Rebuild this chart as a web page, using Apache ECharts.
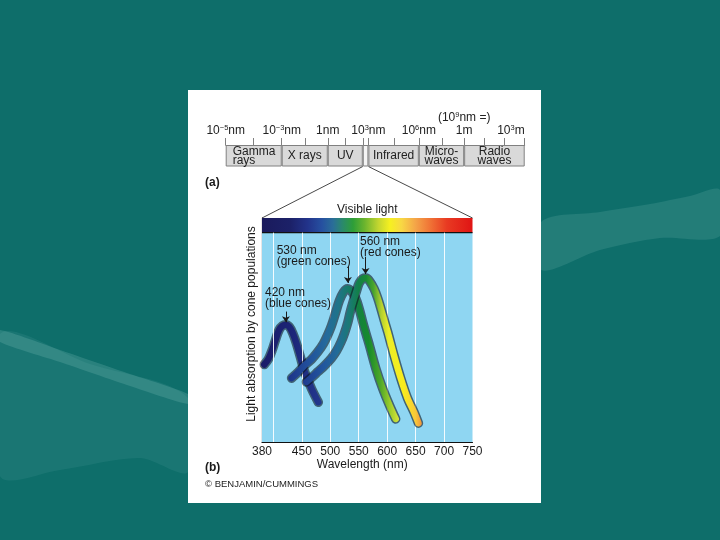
<!DOCTYPE html>
<html><head><meta charset="utf-8">
<script src="https://cdn.jsdelivr.net/npm/echarts@6/dist/echarts.min.js"></script>
<style>html,body{margin:0;padding:0;background:#0e6e6a;} #c{width:720px;height:540px;}</style>
</head><body><div id="c"></div>
<script>
// ---------- data ----------
const wavelengthLabels = [380, 450, 500, 550, 600, 650, 700, 750];
const gridLineWavelengths = [400, 450, 500, 550, 600, 650, 700];
const visibleRange = [380, 750];
const spectrumTop = 107;   // visible-light colour strip sits above absorption 100
const blueCone = [[384,37],[391,39.5],[398,44],[404,49],[410,53.5],[416,55.5],[422,56],[428,55],[434,52],[440,47.5],[447,41],[455,33.5],[467,25.5],[479,19]];
const greenCone = [[432,30.5],[444,33.5],[455,36.7],[467,39.5],[478,43],[488,47],[496,51.5],[502,55.5],[508,60.5],[516,67.5],[523,71.5],[530,73.2],[537,72],[545,68.4],[551,63.5],[557,57.3],[563,51.5],[569,46],[580,35.2],[592,25.6],[604,17.6],[615,11]];
const redCone = [[458,28.7],[468,31],[478,33.5],[490,36.5],[502,40],[511,43.5],[519,47.8],[525,52],[531,57.3],[535,62],[540,66.8],[546,72],[551,76],[557,78],[563,78.3],[570,76.5],[577,73.2],[583,69],[589,63.7],[595,58],[601,52.5],[612,41.4],[624,30.3],[636,20.8],[647,14.4],[655,9]];
const peakLabels = ['420 nm\n(blue cones)', '530 nm\n(green cones)', '560 nm\n(red cones)'];
const peakWavelengths = [422, 531, 562];

const bandNames = ['Gamma\nrays', 'X rays', 'UV', '', 'Infrared', 'Micro-\nwaves', 'Radio\nwaves'];
const bandWidths = [56, 46, 35, 5.6, 50.4, 45.3, 60.5];
const scaleLabels = ['10{s|−5}nm', '10{s|−3}nm', '1nm', '10{s|3}nm', '10{s|6}nm', '(10{s|9}nm =)\n1m', '10{s|3}m'];
const scaleLabelBoundary = [0, 1, 2, 4, 5, 6, 7];
const minorTickPositions = [28, 79, 119, 168, 216, 258, 278];

// colour stops along wavelength
const spectrumStops = [[380,'#1a1a5c'],[430,'#1c2168'],[460,'#22338a'],[485,'#2650a0'],[505,'#2a6e98'],[522,'#2a8a6a'],[540,'#2e9e38'],[560,'#6ab42e'],[585,'#c4d630'],[605,'#f6f020'],[625,'#f8d844'],[650,'#f4a448'],[675,'#f07436'],[705,'#e83a22'],[750,'#e01414']];
const blueStops = [[384,'#1a1c68'],[430,'#1c2476'],[479,'#23388e']];
const greenStops = [[432,'#1d3388'],[465,'#22509c'],[495,'#246a9c'],[515,'#1f7488'],[530,'#18796a'],[545,'#137f44'],[565,'#168a2c'],[585,'#50a82a'],[600,'#9ccc2c'],[615,'#d8e43c']];
const redStops = [[458,'#1f3a8e'],[490,'#22559e'],[515,'#236c98'],[535,'#1a7a74'],[550,'#128048'],[563,'#1a8a34'],[575,'#4aa42e'],[588,'#b4d030'],[600,'#ecee28'],[625,'#f8ec1c'],[645,'#f8c83a'],[655,'#f0943c']];

// ---------- layout ----------
const MAIN = {left: 262, top: 218, width: 210.5, height: 224};
const BOX = {left: 225.7, top: 145, width: 299, height: 21.5};
const FONT = 'Liberation Sans, Arial, Helvetica, sans-serif';
const TXT = '#1a1a1a';

function grad(stops, lo, hi) {
  return {type: 'linear', x: 0, y: 0, x2: 1, y2: 0,
    colorStops: stops.map(s => ({offset: Math.min(1, Math.max(0, (s[0] - lo) / (hi - lo))), color: s[1]}))};
}
const boundaries = [0];
bandWidths.forEach(w => boundaries.push(boundaries[boundaries.length - 1] + w));
const labelValues = scaleLabelBoundary.map(i => boundaries[i]);
const tickValues = boundaries.concat(minorTickPositions).sort((a, b) => a - b);

function coneSeries(data, stops, idx, labelCoord, arrowFrom, arrowTo) {
  const lo = data[0][0], hi = data[data.length - 1][0];
  return [{
    type: 'line', data: data, smooth: 0.35, showSymbol: false, silent: true, z: 3 + idx * 2,
    lineStyle: {color: 'rgba(12,22,34,0.6)', width: 9.5, cap: 'round'}
  }, {
    type: 'line', data: data, smooth: 0.35, showSymbol: false, silent: true, z: 4 + idx * 2,
    lineStyle: {color: grad(stops, lo, hi), width: 6.5, cap: 'round'},
    markPoint: {
      symbol: 'circle', symbolSize: 0, silent: true,
      data: [{coord: labelCoord}],
      label: {show: true, position: [0, 0], align: 'left', verticalAlign: 'top',
        formatter: peakLabels[idx], fontSize: 12, lineHeight: 11, color: TXT, fontFamily: FONT}
    },
    markLine: {
      silent: true, symbol: ['none', 'arrow'], symbolSize: 6, animation: false,
      label: {show: false},
      lineStyle: {color: TXT, width: 1, type: 'solid'},
      data: [[{coord: [peakWavelengths[idx], arrowFrom]}, {coord: [peakWavelengths[idx], arrowTo]}]]
    }
  }];
}

const bandSeries = bandNames.map((name, i) => ({
  type: 'bar', xAxisIndex: 1, yAxisIndex: 1, stack: 'em', barWidth: '100%', silent: true,
  data: [bandWidths[i]],
  itemStyle: {color: name ? '#d9d9d9' : '#f4f4f4', borderColor: '#808080', borderWidth: 1},
  label: {show: !!name, position: i === 0 ? 'insideLeft' : 'inside', distance: 7,
    formatter: name, fontSize: 12, lineHeight: 9, color: '#222', fontFamily: FONT}
}));

const chart = echarts.init(document.getElementById('c'), null, {renderer: 'canvas'});
const option = {
  animation: false,
  backgroundColor: '#0e6e6a',
  textStyle: {fontFamily: FONT},
  grid: [
    Object.assign({outerBoundsMode: 'none'}, MAIN),
    Object.assign({outerBoundsMode: 'none'}, BOX)
  ],
  xAxis: [{
    gridIndex: 0, type: 'value', min: visibleRange[0], max: visibleRange[1],
    axisLine: {show: true, lineStyle: {color: '#111', width: 1.2}},
    axisTick: {show: false}, splitLine: {show: false},
    axisLabel: {customValues: wavelengthLabels, fontSize: 12, color: TXT, margin: 4},
    name: 'Wavelength (nm)', nameLocation: 'middle', nameGap: 17,
    nameTextStyle: {fontSize: 12, color: TXT, padding: [0, 10, 0, 0]}
  }, {
    gridIndex: 1, type: 'value', min: 0, max: boundaries[boundaries.length - 1], position: 'top',
    axisLine: {show: true, lineStyle: {color: '#808080'}},
    axisTick: {show: true, customValues: tickValues, length: 7, inside: false, lineStyle: {color: '#808080'}},
    splitLine: {show: false},
    axisLabel: {customValues: labelValues, fontSize: 12, color: '#222', margin: 8, lineHeight: 13,
      alignMaxLabel: 'right',
      formatter: v => { const i = labelValues.findIndex(x => Math.abs(x - v) < 1e-6); return i < 0 ? '' : scaleLabels[i]; },
      rich: {s: {fontSize: 7.5, lineHeight: 8, verticalAlign: 'top', color: '#222'}}}
  }],
  yAxis: [{
    gridIndex: 0, type: 'value', min: 0, max: spectrumTop,
    axisLine: {show: true, lineStyle: {color: '#111', width: 1.2}},
    axisTick: {show: false}, axisLabel: {show: false}, splitLine: {show: false},
    name: 'Light absorption by cone populations', nameLocation: 'middle', nameGap: 4,
    nameTextStyle: {fontSize: 12, color: TXT, padding: [0, 0, 0, 12]}
  }, {
    gridIndex: 1, type: 'category', data: ['EM'], show: false
  }],
  series: [{
    type: 'line', data: [], silent: true, z: 1,
    markArea: {silent: true, data: [
      [{coord: [visibleRange[0], 0], itemStyle: {color: '#8fd6f2'}}, {coord: [visibleRange[1], 100]}],
      [{coord: [visibleRange[0], 100], itemStyle: {color: grad(spectrumStops, visibleRange[0], visibleRange[1])}}, {coord: [visibleRange[1], spectrumTop]}]
    ]},
    markLine: {silent: true, symbol: ['none', 'none'], label: {show: false},
      lineStyle: {color: '#ffffff', width: 1, type: 'solid', opacity: 0.9},
      data: gridLineWavelengths.map(w => [{coord: [w, 0]}, {coord: [w, 100]}])}
  }, {
    type: 'line', data: visibleRange.map(w => [w, 100]), silent: true, z: 2, showSymbol: false,
    lineStyle: {color: '#111', width: 1.2}
  }]
  .concat(coneSeries(blueCone, blueStops, 0, [385.3, 74.0], 62.3, 57.2))
  .concat(coneSeries(greenCone, greenStops, 1, [405.8, 94.0], 84, 76))
  .concat(coneSeries(redCone, redStops, 2, [552.3, 98.3], 88.5, 80.3))
  .concat(bandSeries)
};
chart.setOption(option);

// triangle linking the visible slot to the visible-light strip
const xl = chart.convertToPixel({xAxisIndex: 1}, boundaries[3]);
const xr = chart.convertToPixel({xAxisIndex: 1}, boundaries[4]);
const bl = chart.convertToPixel({xAxisIndex: 0}, visibleRange[0]);
const br = chart.convertToPixel({xAxisIndex: 0}, visibleRange[1]);
const boxBottom = BOX.top + BOX.height;
const stripTop = MAIN.top;

chart.setOption({graphic: [
  {type: 'polygon', z: -10, silent: true, shape: {smooth: 0.3, points: [[0,334],[90,364],[188,398],[188,472],[140,458],[60,470],[0,476]]}, style: {fill: 'rgba(110,180,175,0.13)'}},
  {type: 'polygon', z: -9, silent: true, shape: {smooth: 0.2, points: [[0,330],[60,350],[130,374],[188,394],[188,404],[130,386],[60,362],[0,342]]}, style: {fill: 'rgba(140,200,195,0.22)'}},
  {type: 'polygon', z: -10, silent: true, shape: {smooth: 0.3, points: [[541,222],[600,212],[650,204],[690,196],[720,190],[720,236],[660,238],[600,250],[541,270]]}, style: {fill: 'rgba(120,185,180,0.2)'}},
  {type: 'rect', z: -5, silent: true, shape: {x: 188, y: 90, width: 353, height: 413}, style: {fill: '#ffffff'}},
  {type: 'line', z: 20, silent: true, shape: {x1: xl, y1: boxBottom, x2: bl, y2: stripTop}, style: {stroke: '#333', lineWidth: 0.9}},
  {type: 'line', z: 20, silent: true, shape: {x1: xr, y1: boxBottom, x2: br, y2: stripTop}, style: {stroke: '#333', lineWidth: 0.9}},
  {type: 'text', z: 20, silent: true, style: {x: (bl + br) / 2, y: stripTop - 8, text: 'Visible light', fill: TXT, font: '12px ' + FONT, textAlign: 'center', textVerticalAlign: 'middle'}},
  {type: 'text', z: 20, silent: true, style: {x: 205, y: 183, text: '(a)', fill: TXT, font: 'bold 12px ' + FONT, textAlign: 'left', textVerticalAlign: 'middle'}},
  {type: 'text', z: 20, silent: true, style: {x: 205, y: 468, text: '(b)', fill: TXT, font: 'bold 12px ' + FONT, textAlign: 'left', textVerticalAlign: 'middle'}},
  {type: 'text', z: 20, silent: true, style: {x: 205, y: 484.5, text: '© BENJAMIN/CUMMINGS', fill: '#222', font: '9.5px ' + FONT, textAlign: 'left', textVerticalAlign: 'middle'}}
]});
</script>
</body></html>
